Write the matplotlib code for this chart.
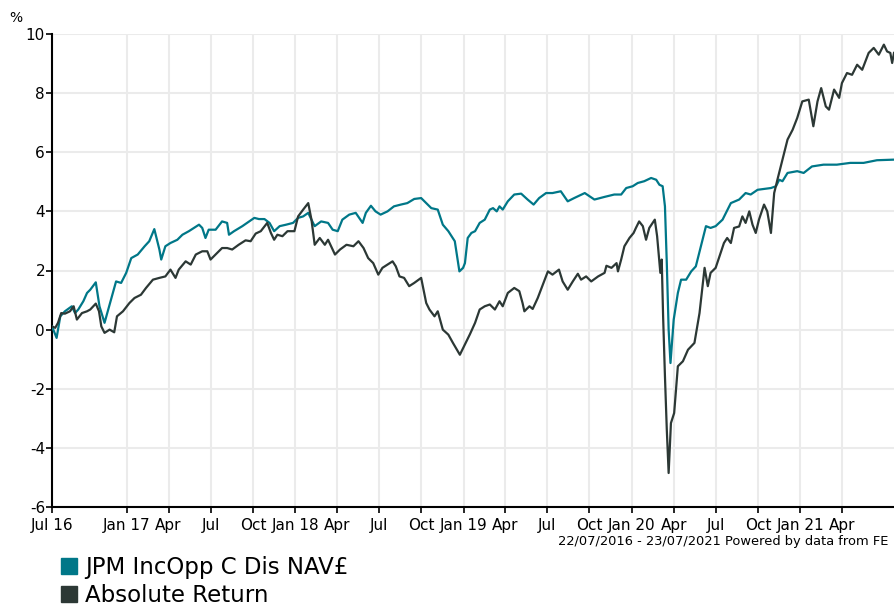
import pandas as pd
import matplotlib
matplotlib.use("Agg")
import matplotlib.pyplot as plt
from matplotlib.lines import Line2D

# JPM IncOpp C Dis NAV£ - cumulative % return
jpm_dates = [
    "2016-07-22", "2016-08-01", "2016-08-09", "2016-08-19", "2016-09-03", "2016-09-10",
    "2016-09-17", "2016-09-28", "2016-10-06", "2016-10-13", "2016-10-25", "2016-11-02",
    "2016-11-13", "2016-11-24", "2016-12-08", "2016-12-19", "2016-12-30", "2017-01-10",
    "2017-01-24", "2017-02-08", "2017-02-18", "2017-03-01", "2017-03-12", "2017-03-16",
    "2017-03-25", "2017-04-05", "2017-04-20", "2017-05-01", "2017-05-15", "2017-05-26",
    "2017-06-06", "2017-06-13", "2017-06-20", "2017-06-27", "2017-07-12", "2017-07-26",
    "2017-08-06", "2017-08-10", "2017-08-21", "2017-09-08", "2017-09-23", "2017-10-04",
    "2017-10-14", "2017-10-26", "2017-11-06", "2017-11-16", "2017-11-28", "2017-12-12",
    "2017-12-27", "2018-01-07", "2018-01-18", "2018-01-29", "2018-02-05", "2018-02-12",
    "2018-02-26", "2018-03-13", "2018-03-23", "2018-04-03", "2018-04-13", "2018-04-28",
    "2018-05-12", "2018-05-27", "2018-06-03", "2018-06-14", "2018-06-24", "2018-07-05",
    "2018-07-20", "2018-08-03", "2018-08-18", "2018-09-01", "2018-09-16", "2018-10-01",
    "2018-10-12", "2018-10-23", "2018-11-06", "2018-11-17", "2018-11-29", "2018-12-13",
    "2018-12-17", "2018-12-23", "2018-12-31", "2019-01-04", "2019-01-10", "2019-01-18",
    "2019-01-26", "2019-02-05", "2019-02-16", "2019-02-27", "2019-03-06", "2019-03-14",
    "2019-03-20", "2019-03-27", "2019-04-07", "2019-04-21", "2019-05-06", "2019-05-20",
    "2019-06-02", "2019-06-14", "2019-06-29", "2019-07-13", "2019-07-31", "2019-08-15",
    "2019-08-29", "2019-09-21", "2019-10-12", "2019-11-03", "2019-11-24", "2019-12-09",
    "2019-12-20", "2020-01-03", "2020-01-14", "2020-01-28", "2020-02-12", "2020-02-23",
    "2020-03-01", "2020-03-08", "2020-03-13", "2020-03-17", "2020-03-21", "2020-03-25",
    "2020-04-01", "2020-04-10", "2020-04-17", "2020-04-28", "2020-05-09", "2020-05-19",
    "2020-05-30", "2020-06-10", "2020-06-20", "2020-07-01", "2020-07-16", "2020-08-03",
    "2020-08-21", "2020-09-04", "2020-09-15", "2020-09-30", "2020-10-14", "2020-10-29",
    "2020-11-09", "2020-11-16", "2020-11-23", "2020-12-04", "2020-12-25", "2021-01-08",
    "2021-01-26", "2021-02-20", "2021-03-21", "2021-04-19", "2021-05-18", "2021-06-16",
    "2021-07-23",
]
jpm_vals = [
    0.11, -0.28, 0.45, 0.62, 0.79, 0.56,
    0.68, 0.96, 1.24, 1.35, 1.60, 0.79,
    0.23, 0.85, 1.63, 1.58, 1.92, 2.42,
    2.54, 2.82, 2.99, 3.40, 2.71, 2.37,
    2.82, 2.93, 3.04, 3.21, 3.33, 3.44,
    3.55, 3.44, 3.10, 3.38, 3.38, 3.66,
    3.61, 3.21, 3.33, 3.50, 3.66, 3.78,
    3.74, 3.74, 3.61, 3.33, 3.50, 3.55,
    3.61, 3.78, 3.83, 3.95, 3.72, 3.50,
    3.66, 3.61, 3.38, 3.33, 3.72, 3.89,
    3.95, 3.61, 3.95, 4.19, 4.00, 3.89,
    4.00, 4.17, 4.23, 4.28, 4.42, 4.45,
    4.28, 4.11, 4.06, 3.55, 3.33, 2.99,
    2.59, 1.97, 2.09, 2.25, 3.10, 3.27,
    3.33, 3.61, 3.72, 4.06, 4.11, 4.00,
    4.17, 4.06, 4.34, 4.57, 4.60, 4.40,
    4.23, 4.45, 4.62, 4.62, 4.68, 4.34,
    4.45, 4.62, 4.40, 4.49, 4.57, 4.57,
    4.79, 4.85, 4.96, 5.02, 5.13, 5.07,
    4.90, 4.85, 4.17, 2.25, 0.00, -1.13,
    0.34, 1.24, 1.69, 1.69, 1.97, 2.14,
    2.82, 3.50, 3.44, 3.50, 3.72, 4.28,
    4.40, 4.62, 4.57, 4.73, 4.76, 4.79,
    4.85, 5.07, 5.02, 5.30, 5.36, 5.30,
    5.52, 5.58, 5.58, 5.64, 5.64, 5.73,
    5.75,
]

# Absolute Return sector - cumulative % return
abs_dates = [
    "2016-07-22", "2016-07-29", "2016-08-04", "2016-08-11", "2016-08-19", "2016-08-30",
    "2016-09-07", "2016-09-14", "2016-09-25", "2016-10-06", "2016-10-13", "2016-10-25",
    "2016-11-01", "2016-11-06", "2016-11-13", "2016-11-24", "2016-12-04", "2016-12-10",
    "2016-12-23", "2017-01-06", "2017-01-17", "2017-01-31", "2017-02-11", "2017-02-26",
    "2017-03-12", "2017-03-25", "2017-04-05", "2017-04-16", "2017-04-23", "2017-05-08",
    "2017-05-19", "2017-05-30", "2017-06-13", "2017-06-24", "2017-07-01", "2017-07-12",
    "2017-07-26", "2017-08-06", "2017-08-17", "2017-08-31", "2017-09-15", "2017-09-26",
    "2017-10-07", "2017-10-18", "2017-11-01", "2017-11-09", "2017-11-16", "2017-11-23",
    "2017-12-04", "2017-12-15", "2017-12-30", "2018-01-07", "2018-01-18", "2018-01-29",
    "2018-02-05", "2018-02-12", "2018-02-23", "2018-03-06", "2018-03-13", "2018-03-28",
    "2018-04-08", "2018-04-22", "2018-05-07", "2018-05-18", "2018-05-29", "2018-06-08",
    "2018-06-19", "2018-06-30", "2018-07-09", "2018-07-20", "2018-07-31", "2018-08-07",
    "2018-08-15", "2018-08-25", "2018-09-05", "2018-09-16", "2018-10-01", "2018-10-12",
    "2018-10-19", "2018-10-30", "2018-11-06", "2018-11-17", "2018-11-29", "2018-12-09",
    "2018-12-24", "2019-01-04", "2019-01-15", "2019-01-26", "2019-02-05", "2019-02-16",
    "2019-02-27", "2019-03-10", "2019-03-20", "2019-03-27", "2019-04-07", "2019-04-21",
    "2019-05-02", "2019-05-09", "2019-05-13", "2019-05-24", "2019-05-31", "2019-06-11",
    "2019-06-22", "2019-07-03", "2019-07-13", "2019-07-27", "2019-08-04", "2019-08-15",
    "2019-08-26", "2019-09-06", "2019-09-13", "2019-09-24", "2019-10-05", "2019-10-20",
    "2019-11-03", "2019-11-07", "2019-11-18", "2019-11-29", "2019-12-02", "2019-12-09",
    "2019-12-16", "2019-12-27", "2020-01-05", "2020-01-10", "2020-01-17", "2020-01-25",
    "2020-02-01", "2020-02-08", "2020-02-20", "2020-02-25", "2020-03-03", "2020-03-06",
    "2020-03-09", "2020-03-13", "2020-03-17", "2020-03-21", "2020-03-26", "2020-04-02",
    "2020-04-10", "2020-04-21", "2020-05-02", "2020-05-16", "2020-05-27", "2020-06-07",
    "2020-06-14", "2020-06-20", "2020-07-01", "2020-07-08", "2020-07-19", "2020-07-26",
    "2020-08-03", "2020-08-10", "2020-08-21", "2020-08-28", "2020-09-04", "2020-09-12",
    "2020-09-19", "2020-09-26", "2020-10-03", "2020-10-14", "2020-10-21", "2020-10-29",
    "2020-11-05", "2020-11-12", "2020-11-23", "2020-12-04", "2020-12-15", "2020-12-25",
    "2021-01-05", "2021-01-19", "2021-01-29", "2021-02-07", "2021-02-15", "2021-02-25",
    "2021-03-04", "2021-03-15", "2021-03-26", "2021-04-01", "2021-04-12", "2021-04-23",
    "2021-05-04", "2021-05-15", "2021-05-29", "2021-06-09", "2021-06-20", "2021-07-01",
    "2021-07-08", "2021-07-15", "2021-07-19", "2021-07-23",
]
abs_vals = [
    0.11, 0.06, 0.23, 0.56, 0.54, 0.62,
    0.79, 0.34, 0.56, 0.62, 0.68, 0.88,
    0.62, 0.11, -0.11, 0.00, -0.09, 0.45,
    0.62, 0.90, 1.07, 1.18, 1.41, 1.69,
    1.75, 1.80, 2.03, 1.75, 2.03, 2.31,
    2.20, 2.54, 2.65, 2.65, 2.37, 2.54,
    2.76, 2.76, 2.71, 2.87, 3.02, 2.99,
    3.25, 3.33, 3.61, 3.27, 3.04, 3.21,
    3.16, 3.33, 3.33, 3.83, 4.06, 4.28,
    3.72, 2.87, 3.10, 2.87, 3.04, 2.54,
    2.71, 2.87, 2.82, 2.99, 2.76, 2.42,
    2.25, 1.86, 2.09, 2.20, 2.31, 2.14,
    1.80, 1.75, 1.47, 1.58, 1.75, 0.90,
    0.68, 0.45, 0.62, 0.00, -0.17, -0.45,
    -0.85, -0.50, -0.15, 0.23, 0.68, 0.79,
    0.85, 0.68, 0.96, 0.79, 1.24, 1.41,
    1.30, 0.90, 0.62, 0.79, 0.70, 1.07,
    1.52, 1.97, 1.86, 2.03, 1.63, 1.35,
    1.63, 1.89, 1.69, 1.80, 1.63, 1.80,
    1.92, 2.16, 2.09, 2.25, 1.97, 2.37,
    2.82, 3.10, 3.27, 3.44, 3.66, 3.50,
    3.04, 3.44, 3.72, 3.16, 1.92, 2.37,
    0.45, -1.58, -3.38, -4.85, -3.16, -2.82,
    -1.24, -1.07, -0.68, -0.45, 0.56, 2.09,
    1.47, 1.92, 2.09, 2.42, 2.93, 3.10,
    2.93, 3.44, 3.49, 3.83, 3.61, 4.00,
    3.55, 3.27, 3.72, 4.23, 4.00, 3.27,
    4.62, 5.07, 5.75, 6.43, 6.76, 7.16,
    7.72, 7.78, 6.88, 7.72, 8.17, 7.55,
    7.44, 8.12, 7.84, 8.34, 8.68, 8.62,
    8.96, 8.79, 9.36, 9.53, 9.30, 9.64,
    9.41, 9.36, 9.02, 9.36,
]

tick_dates = ["2016-07-22", "2017-01-01", "2017-04-01", "2017-07-01", "2017-10-01",
              "2018-01-01", "2018-04-01", "2018-07-01", "2018-10-01",
              "2019-01-01", "2019-04-01", "2019-07-01", "2019-10-01",
              "2020-01-01", "2020-04-01", "2020-07-01", "2020-10-01",
              "2021-01-01", "2021-04-01"]
tick_labels = ["Jul 16", "Jan 17", "Apr", "Jul", "Oct", "Jan 18", "Apr", "Jul", "Oct",
               "Jan 19", "Apr", "Jul", "Oct", "Jan 20", "Apr", "Jul", "Oct", "Jan 21", "Apr"]
y_ticks = [-6, -4, -2, 0, 2, 4, 6, 8, 10]

series_names = ["JPM IncOpp C Dis NAV£", "Absolute Return"]
colors = ["#007788", "#2c3835"]

plt.rcParams['font.family'] = ['DejaVu Sans']

fig = plt.figure(figsize=(8.94, 6.06), dpi=100)
ax = fig.add_axes([52 / 894, 99 / 606, 842 / 894, 473 / 606])

ax.plot(pd.to_datetime(jpm_dates), jpm_vals, color=colors[0], lw=1.6, zorder=3)
ax.plot(pd.to_datetime(abs_dates), abs_vals, color=colors[1], lw=1.6, zorder=4)

ax.set_xlim(pd.Timestamp("2016-07-22"), pd.Timestamp("2021-07-23"))
ax.set_ylim(-6, 10)
ax.set_xticks(pd.to_datetime(tick_dates))
ax.set_xticklabels(tick_labels)
ax.set_yticks(y_ticks)
ax.set_yticklabels([str(v) for v in y_ticks])

ax.grid(True, color="#ebebeb", lw=1.5, zorder=0)
ax.set_axisbelow(True)
for side in ["top", "right"]:
    ax.spines[side].set_visible(False)
for side in ["left", "bottom"]:
    ax.spines[side].set_color("black")
    ax.spines[side].set_linewidth(1.5)
ax.tick_params(axis="both", direction="out", length=4, width=1.2, color="black",
               labelsize=11)
ax.tick_params(axis="y", pad=1)
ax.tick_params(axis="x", pad=4)

fig.text(9 / 894, 1 - 18 / 606, "%", fontsize=10, va="center", ha="left")
fig.text(888 / 894, 1 - 541 / 606, "22/07/2016 - 23/07/2021 Powered by data from FE",
         fontsize=9.4, ha="right", va="center")

handles = [Line2D([], [], marker="s", linestyle="none", markersize=11, color=c)
           for c in colors]
fig.legend(handles, series_names, loc="upper left", bbox_to_anchor=(47 / 894, 1 - 545 / 606),
           frameon=False, fontsize=16.5, handletextpad=0.25, labelspacing=0.2,
           borderpad=0, handlelength=0.9)

fig.savefig("out.png", dpi=100)
